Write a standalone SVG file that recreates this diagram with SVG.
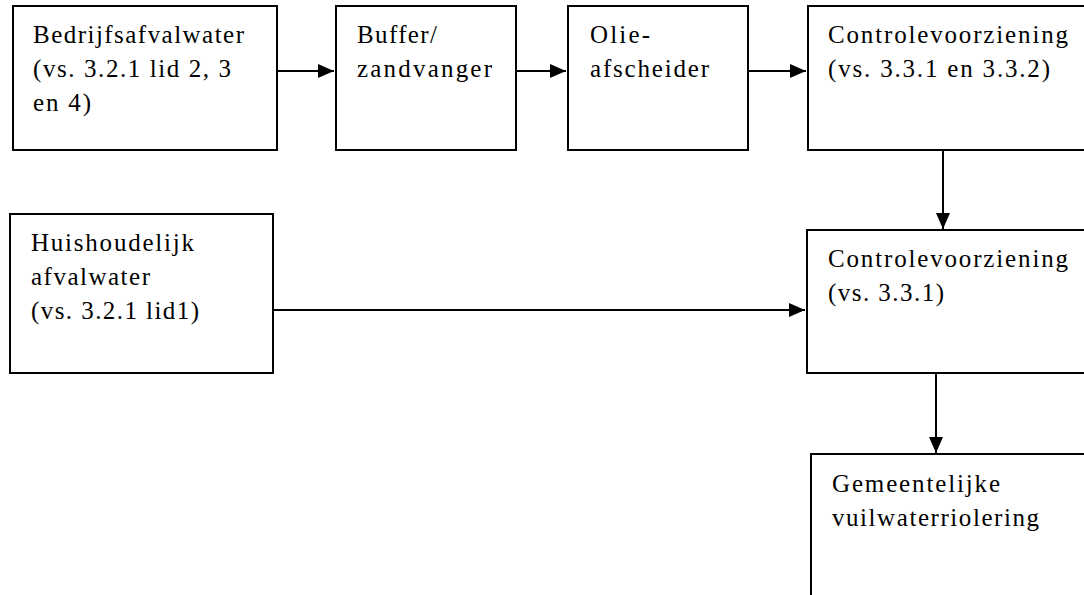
<svg xmlns="http://www.w3.org/2000/svg" width="1084" height="595" viewBox="0 0 1084 595">
<style>
.box{fill:#fff;stroke:#000;stroke-width:2}
.c{stroke:#000;stroke-width:2;fill:none}
.t{font-family:"Liberation Serif","Times New Roman",serif;font-size:25px;fill:#000}
</style>
<defs>
<marker id="ah" viewBox="0 0 16 14" refX="16" refY="7" markerUnits="userSpaceOnUse" markerWidth="16" markerHeight="14" orient="auto">
<path d="M0,0 L16,7 L0,14 z" fill="#000"/>
</marker>
</defs>
<rect width="1084" height="595" fill="#fff"/>
<g id="connectors">
<line class="c" x1="277" y1="71" x2="334" y2="71" marker-end="url(#ah)"/>
<line class="c" x1="516" y1="71" x2="566" y2="71" marker-end="url(#ah)"/>
<line class="c" x1="748" y1="71" x2="806" y2="71" marker-end="url(#ah)"/>
<line class="c" x1="943" y1="150" x2="943" y2="229" marker-end="url(#ah)"/>
<line class="c" x1="273" y1="310" x2="805" y2="310" marker-end="url(#ah)"/>
<line class="c" x1="936" y1="373" x2="936" y2="453" marker-end="url(#ah)"/>
</g>
<g id="bedrijfsafvalwater">
<rect class="box" x="13" y="6" width="264" height="144"/>
<text class="t" x="33" y="43" textLength="211" lengthAdjust="spacing">Bedrijfsafvalwater</text>
<text class="t" x="33" y="77" textLength="198" lengthAdjust="spacing">(vs. 3.2.1 lid 2, 3</text>
<text class="t" x="33" y="111" textLength="58" lengthAdjust="spacing">en 4)</text>
</g>
<g id="buffer">
<rect class="box" x="336" y="6" width="180" height="144"/>
<text class="t" x="357" y="43" textLength="80" lengthAdjust="spacing">Buffer/</text>
<text class="t" x="357" y="77" textLength="135" lengthAdjust="spacing">zandvanger</text>
</g>
<g id="olieafscheider">
<rect class="box" x="568" y="6" width="180" height="144"/>
<text class="t" x="590" y="43" textLength="60" lengthAdjust="spacing">Olie-</text>
<text class="t" x="590" y="77" textLength="119" lengthAdjust="spacing">afscheider</text>
</g>
<g id="controle1">
<rect class="box" x="808" y="6" width="290" height="144"/>
<text class="t" x="828" y="43" textLength="240" lengthAdjust="spacing">Controlevoorziening</text>
<text class="t" x="828" y="77" textLength="222" lengthAdjust="spacing">(vs. 3.3.1 en 3.3.2)</text>
</g>
<g id="huishoudelijk">
<rect class="box" x="10" y="214" width="263" height="159"/>
<text class="t" x="31" y="251" textLength="163" lengthAdjust="spacing">Huishoudelijk</text>
<text class="t" x="31" y="285" textLength="119" lengthAdjust="spacing">afvalwater</text>
<text class="t" x="31" y="319" textLength="168" lengthAdjust="spacing">(vs. 3.2.1 lid1)</text>
</g>
<g id="controle2">
<rect class="box" x="807" y="230" width="290" height="143"/>
<text class="t" x="828" y="267" textLength="240" lengthAdjust="spacing">Controlevoorziening</text>
<text class="t" x="828" y="301" textLength="116" lengthAdjust="spacing">(vs. 3.3.1)</text>
</g>
<g id="riolering">
<rect class="box" x="811" y="454" width="290" height="160"/>
<text class="t" x="832" y="492" textLength="168" lengthAdjust="spacing">Gemeentelijke</text>
<text class="t" x="832" y="526" textLength="207" lengthAdjust="spacing">vuilwaterriolering</text>
</g>
</svg>
